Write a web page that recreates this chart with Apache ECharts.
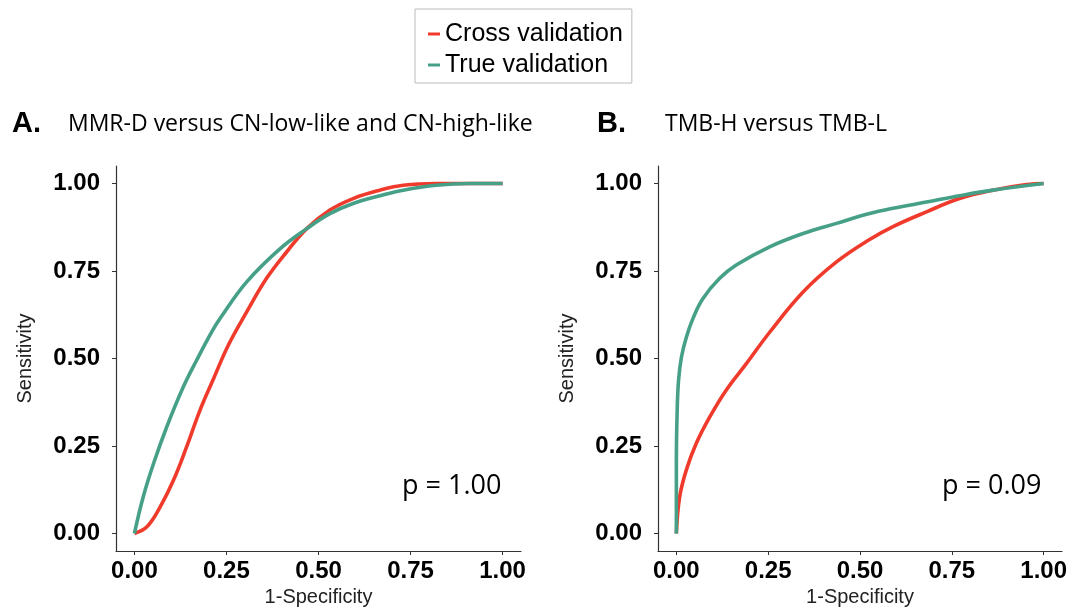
<!DOCTYPE html>
<html>
<head>
<meta charset="utf-8">
<script src="https://cdn.jsdelivr.net/npm/echarts@6/dist/echarts.min.js"></script>
<style>
  html, body { margin: 0; padding: 0; background: #fff; }
  #chart { width: 1081px; height: 614px; }
</style>
</head>
<body>
<div id="chart"></div>
<script>
// tick positions shared by both panels
const ticks = [0, 0.25, 0.5, 0.75, 1];

// panel A: MMR-D versus CN-low-like and CN-high-like  [1-specificity, sensitivity]
const crossA = [
  [0, 0], [0.034, 0.019], [0.07, 0.076], [0.106, 0.152], [0.142, 0.248], [0.178, 0.352],
  [0.214, 0.44], [0.255, 0.538], [0.305, 0.633], [0.359, 0.729], [0.414, 0.805],
  [0.468, 0.871], [0.531, 0.924], [0.594, 0.957], [0.667, 0.981], [0.73, 0.995],
  [0.82, 1.0], [1, 1]
];
const trueA = [
  [0, 0], [0.024, 0.105], [0.052, 0.2], [0.088, 0.305], [0.133, 0.419], [0.169, 0.495],
  [0.21, 0.576], [0.233, 0.615], [0.305, 0.719], [0.396, 0.814], [0.468, 0.871],
  [0.531, 0.914], [0.594, 0.943], [0.667, 0.965], [0.73, 0.981], [0.82, 0.995],
  [0.91, 1.0], [1, 1]
];

// panel B: TMB-H versus TMB-L
const crossB = [
  [0, 0], [0.009, 0.105], [0.027, 0.181], [0.054, 0.257], [0.091, 0.333], [0.136, 0.41],
  [0.191, 0.486], [0.254, 0.575], [0.345, 0.69], [0.436, 0.776], [0.526, 0.84],
  [0.59, 0.877], [0.681, 0.919], [0.771, 0.957], [0.862, 0.981], [0.953, 0.997], [1, 1]
];
const trueB = [
  [0, 0], [0, 0.2], [0.002, 0.343], [0.006, 0.438], [0.014, 0.505], [0.027, 0.56],
  [0.045, 0.614], [0.072, 0.671], [0.118, 0.729], [0.163, 0.767], [0.254, 0.819],
  [0.345, 0.857], [0.436, 0.886], [0.526, 0.914], [0.59, 0.929], [0.681, 0.947],
  [0.771, 0.965], [0.862, 0.981], [1, 1]
];

const pValues = ["p = 1.00", "p = 0.09"];
const seriesNames = ["Cross validation", "True validation"];
const colors = ["#F03B2C", "#46A088"];

const chart = echarts.init(document.getElementById("chart"));

const makeX = (gridIndex) => ({
  type: "value",
  gridIndex,
  min: -0.05,
  max: 1.05,
  name: "1-Specificity",
  nameLocation: "middle",
  nameGap: 30,
  nameTextStyle: { fontFamily: "Liberation Sans", fontSize: 20, color: "#222" },
  axisLine: { show: true, onZero: false, lineStyle: { color: "#333", width: 1.2 } },
  axisTick: { show: true, length: 4, customValues: ticks, lineStyle: { color: "#333" } },
  axisLabel: {
    customValues: ticks,
    margin: 8,
    fontFamily: "Liberation Sans",
    fontWeight: "bold",
    fontSize: 24,
    color: "#000",
    formatter: (v) => v.toFixed(2),
  },
  splitLine: { show: false },
});

const makeY = (gridIndex) => ({
  type: "value",
  gridIndex,
  min: -0.05,
  max: 1.05,
  name: "Sensitivity",
  nameLocation: "middle",
  nameGap: 81,
  nameTextStyle: { fontFamily: "Liberation Sans", fontSize: 20, color: "#222" },
  axisLine: { show: true, onZero: false, lineStyle: { color: "#333", width: 1.2 } },
  axisTick: { show: true, length: 4, customValues: ticks, lineStyle: { color: "#333" } },
  axisLabel: {
    customValues: ticks,
    margin: 16,
    fontFamily: "Liberation Sans",
    fontWeight: "bold",
    fontSize: 24,
    color: "#000",
    formatter: (v) => v.toFixed(2),
  },
  splitLine: { show: false },
});

const makeLine = (name, data, idx, color) => ({
  name,
  type: "line",
  xAxisIndex: idx,
  yAxisIndex: idx,
  data,
  smooth: 0.4,
  showSymbol: false,
  symbol: "none",
  lineStyle: { color, width: 3.6 },
  itemStyle: { color },
  z: name === seriesNames[1] ? 3 : 2,
});

let option = {
  animation: false,
  backgroundColor: "#fff",
  legend: {
    orient: "vertical",
    left: 415,
    top: 9,
    padding: [12, 9, 5, 13],
    itemGap: 5,
    itemWidth: 12,
    itemHeight: 3,
    icon: "rect",
    borderColor: "#bbb",
    borderWidth: 1,
    data: seriesNames,
    textStyle: { fontFamily: "Liberation Sans", fontSize: 25, lineHeight: 26, color: "#000" },
  },
  grid: [
    { left: 116, right: 560, top: 166, bottom: 63 },
    { left: 658, right: 19, top: 166, bottom: 63 },
  ],
  xAxis: [makeX(0), makeX(1)],
  yAxis: [makeY(0), makeY(1)],
  graphic: [
    { type: "text", left: 12, top: 109, style: { text: "A.", font: "bold 29px 'Liberation Sans'", fill: "#000" } },
    { type: "text", left: 68, top: 113, style: { text: "MMR-D versus CN-low-like and CN-high-like", font: "23px 'Open Sans'", fill: "#000" } },
    { type: "text", left: 597, top: 109, style: { text: "B.", font: "bold 29px 'Liberation Sans'", fill: "#000" } },
    { type: "text", left: 665, top: 113, style: { text: "TMB-H versus TMB-L", font: "23px 'Open Sans'", fill: "#000" } },
    { type: "text", left: 402, top: 473, style: { text: pValues[0], font: "27px 'Open Sans'", fill: "#000" } },
    { type: "text", left: 942, top: 473, style: { text: pValues[1], font: "27px 'Open Sans'", fill: "#000" } },
  ],
  series: [
    makeLine(seriesNames[0], crossA, 0, colors[0]),
    makeLine(seriesNames[1], trueA, 0, colors[1]),
    makeLine(seriesNames[0], crossB, 1, colors[0]),
    makeLine(seriesNames[1], trueB, 1, colors[1]),
  ],
};
option && chart.setOption(option);
</script>
</body>
</html>
